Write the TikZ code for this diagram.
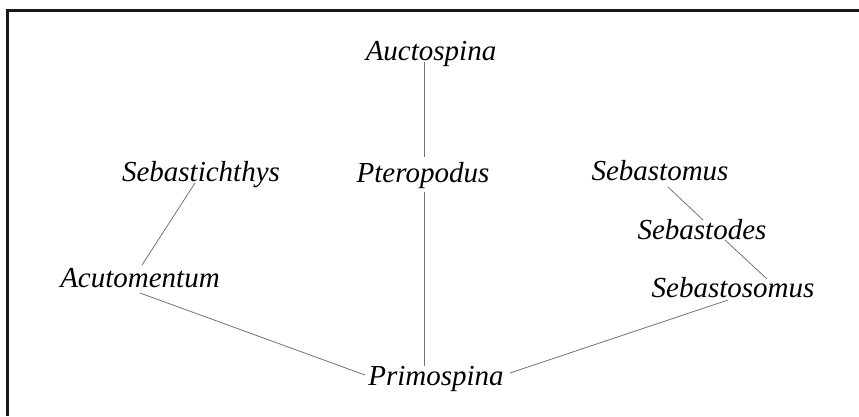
\documentclass[tikz,border=0pt]{standalone}
\usepackage{fontspec}
\setmainfont{Liberation Serif}
\begin{document}
\begin{tikzpicture}[x=1pt,y=-1pt,
  taxon/.style={anchor=base,inner sep=0pt,font=\fontsize{29}{34}\selectfont\itshape},
  link/.style={draw=black!55,line width=0.8pt},
  frameline/.style={draw=black!90,line width=3pt}]
\useasboundingbox (0,0) rectangle (859,416);
\draw[frameline] (5.5,10) -- (859,10);
\draw[frameline] (7,8.5) -- (7,416);
\node[taxon] (auct) at (431,60) {Auctospina};
\node[taxon] (pter) at (423,182) {Pteropodus};
\node[taxon] (sebi) at (201,181) {Sebastichthys};
\node[taxon] (acut) at (140,287) {Acutomentum};
\node[taxon] (prim) at (436,385) {Primospina};
\node[taxon] (sebm) at (660,180) {Sebastomus};
\node[taxon] (sebd) at (702,239) {Sebastodes};
\node[taxon] (sebs) at (733,297) {Sebastosomus};
\draw[link] ([xshift=-7pt,yshift=-2pt]auct.base) -- ([xshift=1pt,yshift=25pt]pter.base);
\draw[link] ([xshift=1pt,yshift=-10pt]pter.base) -- ([xshift=-12pt,yshift=19pt]prim.base);
\draw[link] ([xshift=-6pt,yshift=-2pt]sebi.base) -- ([xshift=2pt,yshift=22pt]acut.base);
\draw[link] ([xshift=0pt,yshift=-6pt]acut.base) -- ([xshift=-71pt,yshift=10pt]prim.base);
\draw[link] ([xshift=74pt,yshift=12pt]prim.base) -- ([xshift=-5pt,yshift=-3pt]sebs.base);
\draw[link] ([xshift=8pt,yshift=-7pt]sebm.base) -- ([xshift=1pt,yshift=19pt]sebd.base);
\draw[link] ([xshift=23pt,yshift=-1pt]sebd.base) -- ([xshift=34pt,yshift=18pt]sebs.base);
\end{tikzpicture}
\end{document}
